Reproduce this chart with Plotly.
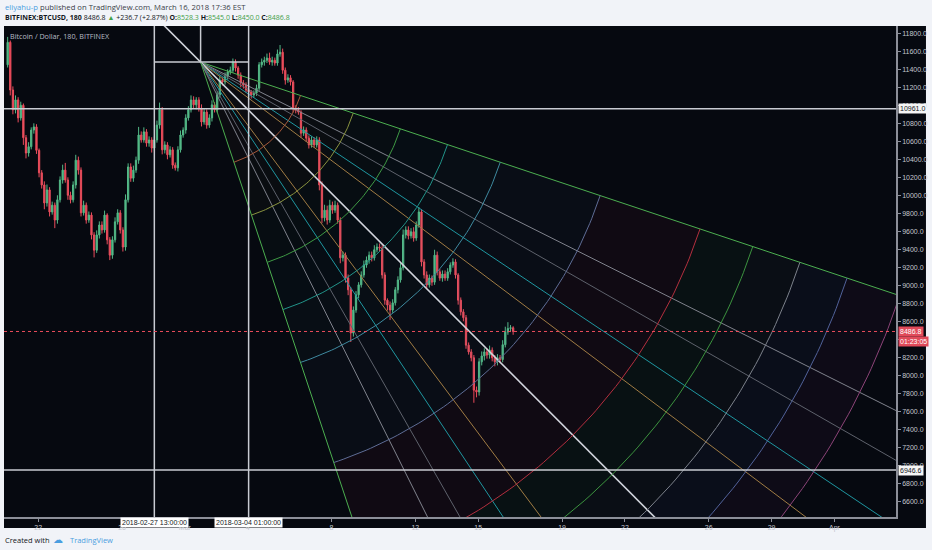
import numpy as np
import pandas as pd
import plotly.graph_objects as go

# ---- BITFINEX:BTCUSD, 180 minute bars ----
first_bar = "2018-02-20 13:00"
first_open = 11450

closes = [
    11700, 11170, 10950, 11060, 10860, 11000, 10640, 10470, 10540, 10725,
    10760, 10500, 10250, 10115, 9915, 10060, 9815, 9890, 9725, 9950,
    10170, 10280, 10170, 10000, 9950, 10115, 10390, 10280, 9805, 9890,
    9725, 9780, 9560, 9390, 9560, 9670, 9615, 9780, 9505, 9335,
    9505, 9705, 9805, 9615, 9425, 9950, 10315, 10190, 10280, 10390,
    10670, 10615, 10705, 10580, 10615, 10525, 10615, 10780, 10950, 10505,
    10560, 10450, 10505, 10335, 10305, 10505, 10670, 10725, 10860, 10950,
    11060, 11005, 11060, 10970, 10815, 10925, 10780, 10860, 11005, 10950,
    11115, 11280, 11260, 11325, 11370, 11390, 11480, 11415, 11335, 11250,
    11225, 11170, 11150, 11115, 11135, 11190, 11450, 11480, 11500, 11525,
    11480, 11500, 11470, 11570, 11590, 11390, 11280, 11305, 11260, 10970,
    10950, 10925, 10690, 10725, 10635, 10560, 10615, 10560, 10615, 10115,
    9750, 9835, 9725, 9890, 9835, 9890, 9725, 9305, 9335, 9080,
    8950, 8470, 8725, 8895, 9005, 9115, 9225, 9280, 9335, 9305,
    9395, 9425, 9415, 9115, 8835, 8780, 8725, 8805, 8950, 9060,
    9195, 9560, 9615, 9550, 9595, 9525, 9670, 9815, 9260, 9115,
    9005, 9080, 9035, 9335, 9150, 9080, 9125, 9080, 9150, 9225,
    9260, 9115, 8835, 8705, 8640, 8335, 8260, 8195, 7835, 7815,
    8150, 8215, 8260, 8225, 8280, 8195, 8150, 8195, 8175, 8340,
    8480, 8520, 8528.3, 8486.8,
]

# wick length above / below the candle body
wick_up = [
    60, 20, 40, 50, 30, 40, 20, 30, 50, 30,
    40, 30, 20, 30, 40, 60, 30, 40, 30, 50,
    40, 60, 80, 30, 40, 40, 60, 40, 30, 50,
    30, 40, 30, 30, 50, 40, 40, 50, 20, 30,
    40, 50, 40, 30, 30, 60, 40, 40, 50, 40,
    90, 40, 50, 30, 40, 30, 40, 50, 80, 30,
    40, 30, 40, 30, 30, 40, 50, 30, 40, 40,
    50, 40, 30, 30, 40, 40, 30, 40, 50, 30,
    40, 50, 30, 40, 30, 40, 40, 30, 20, 30,
    30, 30, 30, 20, 30, 40, 30, 40, 40, 50,
    60, 40, 30, 50, 80, 40, 30, 40, 30, 20,
    30, 30, 20, 40, 30, 30, 40, 30, 40, 30,
    40, 60, 50, 60, 40, 50, 30, 30, 40, 30,
    40, 30, 40, 40, 30, 40, 50, 40, 40, 40,
    50, 40, 40, 30, 30, 20, 40, 40, 30, 40,
    50, 60, 40, 40, 40, 50, 40, 55, 30, 30,
    40, 40, 30, 60, 40, 30, 40, 40, 40, 30,
    40, 30, 20, 30, 30, 30, 30, 30, 30, 40,
    40, 50, 40, 40, 50, 30, 30, 40, 30, 50,
    60, 70, 30, 16.7,
]
wick_dn = [
    30, 60, 50, 40, 50, 30, 80, 60, 40, 30,
    40, 40, 50, 40, 70, 40, 50, 30, 90, 40,
    30, 40, 30, 50, 40, 30, 40, 50, 40, 30,
    40, 30, 50, 80, 30, 40, 40, 30, 50, 55,
    40, 30, 30, 40, 50, 40, 30, 40, 40, 30,
    40, 30, 30, 40, 40, 50, 30, 30, 40, 50,
    40, 50, 30, 40, 30, 40, 30, 30, 40, 30,
    30, 40, 50, 40, 50, 30, 40, 30, 40, 30,
    30, 30, 40, 30, 40, 30, 30, 40, 40, 50,
    40, 30, 40, 40, 30, 30, 30, 30, 40, 30,
    30, 40, 30, 30, 30, 40, 50, 30, 40, 50,
    40, 30, 50, 30, 40, 40, 30, 30, 30, 60,
    60, 40, 50, 30, 40, 30, 40, 60, 40, 50,
    60, 100, 40, 30, 40, 30, 30, 30, 40, 40,
    30, 30, 40, 40, 50, 60, 110, 30, 30, 40,
    30, 30, 40, 40, 30, 40, 30, 30, 50, 40,
    40, 30, 40, 30, 40, 30, 40, 30, 30, 30,
    30, 40, 50, 40, 40, 40, 30, 40, 140, 60,
    40, 40, 50, 40, 40, 40, 50, 40, 40, 30,
    30, 30, 40, 36.8,
]

# ---- drawings ----
box_left = "2018-02-27 13:00"
box_right = "2018-03-04 01:00"
fan_time = pd.Timestamp("2018-03-01 18:00")
fan_price = 11480
box_days = 20.1      # fan unit box (time)
box_price = 4690     # fan unit box (price)
fan_ratios = [1/3, 1/2, 4/7, 2/3, 3/4, 1, 4/3, 3/2, 7/4, 2, 3]
fan_colors = ["#4caf50", "#80838d", "#5e626c", "#1f96a0", "#a07c44", "#d1d4dc",
              "#a07c44", "#1f96a0", "#5e626c", "#80838d", "#4caf50"]
arc_levels = [0.25, 0.382, 0.5, 0.618, 0.75, 1, 1.25, 1.382, 1.5, 1.618, 1.75]
arc_colors = ["#a85a3c", "#8a9440", "#3f9a45", "#22948a", "#3f8aa0", "#5f6d96",
              "#b3303f", "#3d9440", "#7d828c", "#52629a", "#8c4478"]
band_colors = ["rgba(190,100,60,0.035)", "rgba(150,160,60,0.03)", "rgba(76,175,80,0.03)",
               "rgba(38,166,154,0.03)", "rgba(74,159,181,0.035)", "rgba(100,110,170,0.045)",
               "rgba(190,30,70,0.06)", "rgba(50,160,60,0.06)", "rgba(120,130,150,0.045)",
               "rgba(80,100,190,0.06)", "rgba(160,60,150,0.055)"]

hlines = [10961.0, 6946.6]
last_price = 8486.8

tick_dates = ["2018-02-22", "2018-02-26", "2018-03-01", "2018-03-04", "2018-03-08",
              "2018-03-12", "2018-03-15", "2018-03-19", "2018-03-22", "2018-03-26",
              "2018-03-29", "2018-04-01"]
tick_text = ["22", "26", "Mar", "4", "8", "12", "15", "19", "22", "26", "29", "Apr"]

UP = "#53b987"
DOWN = "#eb4d5c"
BG = "#060910"
AXIS = "#8c8f99"
TXT = "#c3c6ce"

times = pd.date_range(first_bar, periods=len(closes), freq="3h")
opens = [first_open] + closes[:-1]
highs = [max(o, c) + w for o, c, w in zip(opens, closes, wick_up)]
lows = [min(o, c) - w for o, c, w in zip(opens, closes, wick_dn)]


def fan_xy(u, v):
    u = np.asarray(u, dtype=float)
    v = np.asarray(v, dtype=float)
    t = fan_time + pd.to_timedelta(u * box_days, unit="D")
    return list(t), list(fan_price - v * box_price)


phi = np.linspace(np.arctan(fan_ratios[0]), np.arctan(fan_ratios[-1]), 80)

fig = go.Figure()

# filled bands between the arcs
inner = 0
for lvl, col in zip(arc_levels, band_colors):
    if inner == 0:
        u = np.concatenate([lvl * np.cos(phi), [0]])
        v = np.concatenate([lvl * np.sin(phi), [0]])
    else:
        u = np.concatenate([lvl * np.cos(phi), inner * np.cos(phi[::-1])])
        v = np.concatenate([lvl * np.sin(phi), inner * np.sin(phi[::-1])])
    x, y = fan_xy(u, v)
    fig.add_trace(go.Scatter(x=x, y=y, fill="toself", fillcolor=col, mode="none",
                             hoverinfo="skip"))
    inner = lvl

# fan rays
for k, col in zip(fan_ratios, fan_colors):
    if k == 1:
        s = np.array([-0.3, 3.0])
        u, v = s, s
    elif k < 1:
        u = np.array([0, 3.0])
        v = k * u
    else:
        v = np.array([0, 3.0])
        u = v / k
    x, y = fan_xy(u, v)
    fig.add_trace(go.Scatter(x=x, y=y, mode="lines", hoverinfo="skip",
                             line=dict(color=col, width=1.6 if k == 1 else 1)))

# arcs
for lvl, col in zip(arc_levels, arc_colors):
    x, y = fan_xy(lvl * np.cos(phi), lvl * np.sin(phi))
    fig.add_trace(go.Scatter(x=x, y=y, mode="lines", hoverinfo="skip",
                             line=dict(color=col, width=1)))

fig.add_trace(go.Candlestick(
    x=times, open=opens, high=highs, low=lows, close=closes,
    increasing=dict(line=dict(color=UP, width=1), fillcolor=UP),
    decreasing=dict(line=dict(color=DOWN, width=1), fillcolor=DOWN),
    whiskerwidth=0, hoverinfo="skip"))

x_start = pd.Timestamp("2018-02-22") - pd.Timedelta(days=1.633)
x_end = x_start + pd.Timedelta(days=894 / 21)
y_lo, y_hi = 6425.5, 11881.1

shapes = [
    dict(type="rect", xref="paper", yref="paper", x0=0, x1=1.0336, y0=-0.0224, y1=1,
         fillcolor=BG, line_width=0, layer="below"),
    dict(type="line", xref="x", yref="paper", x0=box_left, x1=box_left, y0=0, y1=1,
         line=dict(color="#c8cbd2", width=1.5)),
    dict(type="line", xref="x", yref="paper", x0=box_right, x1=box_right, y0=0, y1=1,
         line=dict(color="#c8cbd2", width=1.5)),
    dict(type="line", xref="x", yref="y", x0=box_left, x1=box_right, y0=fan_price, y1=fan_price,
         line=dict(color="#c8cbd2", width=1.5)),
    dict(type="line", xref="x", yref="y", x0=fan_time, x1=fan_time, y0=fan_price, y1=y_hi,
         line=dict(color="#c8cbd2", width=1.5)),
    dict(type="line", xref="paper", yref="y", x0=0, x1=1, y0=last_price, y1=last_price,
         line=dict(color=DOWN, width=1, dash="dot")),
]
for h in hlines:
    shapes.append(dict(type="line", xref="paper", yref="y", x0=0, x1=1, y0=h, y1=h,
                       line=dict(color="#c8cbd2", width=1.5)))

G = "#43a047"
ann = [
    dict(x=-0.001, y=1.0387, xref="paper", yref="paper", xanchor="left", yanchor="middle",
         showarrow=False, font=dict(family="Open Sans", size=7.7, color="#3a3e48"),
         text="<span style='color:#4a9ee0'>eliyahu-p</span> published on TradingView.com, "
              "March 16, 2018 17:36 EST"),
    dict(x=-0.001, y=1.0183, xref="paper", yref="paper", xanchor="left", yanchor="middle",
         showarrow=False, font=dict(family="Open Sans", size=7.0, color="#131722"),
         text="<b>BITFINEX:BTCUSD, 180</b> 8486.8 <span style='color:%s'>▲</span> +236.7 (+2.87%%) "
              "<b>O:</b><span style='color:%s'>8528.3</span> <b>H:</b><span style='color:%s'>8545.0</span> "
              "<b>L:</b><span style='color:%s'>8450.0</span> <b>C:</b><span style='color:%s'>8486.8</span>"
              % (G, G, G, G, G)),
    dict(x=0.005, y=0.9796, xref="paper", yref="paper", xanchor="left", yanchor="middle",
         showarrow=False, font=dict(family="Open Sans", size=7.2, color="#b8bcc6"),
         text="Bitcoin / Dollar, 180, BITFINEX"),
    dict(x=-0.001, y=-0.0468, xref="paper", yref="paper", xanchor="left", yanchor="middle",
         showarrow=False, font=dict(family="Open Sans", size=7.5, color="#131722"),
         text="Created with"),
    dict(x=0.0526, y=-0.0468, xref="paper", yref="paper", xanchor="left", yanchor="middle",
         showarrow=False, font=dict(family="DejaVu Sans", size=10, color="#4a9ee0"),
         text="☁"),
    dict(x=0.0716, y=-0.0468, xref="paper", yref="paper", xanchor="left", yanchor="middle",
         showarrow=False, font=dict(family="Open Sans", size=7.5, color="#4a9ee0"),
         text="TradingView"),
]
for h in hlines:
    ann.append(dict(x=1, y=h, xref="paper", yref="y", xanchor="left", yanchor="middle",
                    xshift=2, showarrow=False, bgcolor="#f5f5f5", borderpad=1,
                    font=dict(family="Liberation Sans", size=7, color="#131722"),
                    text="%.1f" % h))
ann.append(dict(x=1, y=last_price, xref="paper", yref="y", xanchor="left", yanchor="middle",
                xshift=2, showarrow=False, bgcolor="#e04a5a", borderpad=1,
                font=dict(family="Liberation Sans", size=7, color="#ffffff"),
                text="%.1f" % last_price))
ann.append(dict(x=1, y=last_price, xref="paper", yref="y", xanchor="left", yanchor="middle",
                xshift=2, yshift=-10, showarrow=False, bgcolor="#e04a5a", borderpad=1,
                font=dict(family="Liberation Sans", size=7, color="#ffffff"),
                text="01:23:05"))
for d in [box_left, box_right]:
    ann.append(dict(x=d, y=-0.0102, xref="x", yref="paper", xanchor="center", yanchor="middle",
                    showarrow=False, bgcolor="#ffffff", borderpad=1,
                    font=dict(family="Liberation Sans", size=7, color="#131722"),
                    text=pd.Timestamp(d).strftime("%Y-%m-%d %H:%M:%S")))

fig.update_layout(
    width=932, height=550,
    margin=dict(l=4, r=34, t=26, b=33),
    paper_bgcolor="#f1f3f8",
    plot_bgcolor=BG,
    showlegend=False,
    shapes=shapes,
    annotations=ann,
    xaxis=dict(range=[x_start, x_end], rangeslider=dict(visible=False), showgrid=False,
               zeroline=False, showline=True, linecolor=AXIS, linewidth=1.5,
               ticks="outside", ticklen=3, tickcolor=AXIS,
               tickvals=tick_dates, ticktext=tick_text,
               tickfont=dict(family="Liberation Sans", size=7, color=TXT)),
    yaxis=dict(range=[y_lo, y_hi], side="right", dtick=200, tick0=0, tickformat=".1f",
               showgrid=False, zeroline=False, showline=True, linecolor=AXIS, linewidth=1.5,
               ticks="outside", ticklen=3, tickcolor=AXIS,
               tickfont=dict(family="Liberation Sans", size=7, color=TXT)),
)

fig.write_html("out.html", config={"displayModeBar": False},
               post_script="document.body.style.margin='0';")
